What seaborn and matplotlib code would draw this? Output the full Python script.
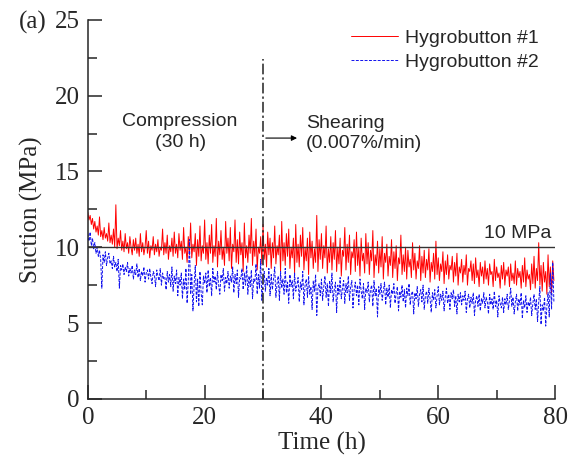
import numpy as np
import pandas as pd
import seaborn as sns
import matplotlib.pyplot as plt

# sampling grid of the hygrobutton records (h)
time_h = np.round(np.arange(0, 80, 0.2), 1)

# Hygrobutton #1 suction (MPa) (4 h per row)
suction_hb1 = [
    12.3, 11.8, 12.1, 11.5, 11.9, 11.2, 11.7, 11.0, 11.4, 10.8, 12.0, 10.7, 11.1, 10.5, 11.3, 10.6, 10.9, 10.4, 11.6, 10.3,
    10.8, 10.2, 11.2, 10.0, 12.8, 9.9, 10.6, 10.1, 11.1, 9.8, 10.4, 9.7, 10.9, 9.9, 10.3, 9.6, 10.7, 10.0, 9.5, 10.5,
    9.8, 10.6, 9.6, 10.2, 9.4, 10.9, 9.7, 10.3, 9.5, 10.0, 11.1, 9.6, 10.4, 9.3, 10.1, 9.8, 10.7, 9.5, 10.2, 9.7,
    10.5, 9.4, 10.0, 9.8, 11.2, 9.5, 10.3, 9.6, 10.8, 9.2, 10.1, 9.7, 10.6, 9.4, 11.0, 9.6, 10.2, 9.3, 10.9, 9.8,
    10.4, 9.2, 11.3, 9.6, 10.0, 9.0, 10.7, 9.5, 11.6, 9.3, 10.2, 9.7, 10.9, 8.8, 10.5, 9.4, 11.4, 9.1, 10.1, 9.6,
    11.8, 9.2, 10.3, 8.9, 10.8, 9.6, 11.5, 9.0, 10.1, 9.4, 11.9, 8.7, 10.4, 9.5, 11.1, 9.2, 10.0, 8.8, 11.7, 9.6,
    10.6, 9.1, 11.3, 8.6, 10.2, 9.7, 11.8, 9.0, 10.5, 8.9, 11.0, 9.5, 10.3, 8.4, 11.6, 9.3, 10.1, 9.0, 10.8, 9.6,
    11.9, 8.8, 10.4, 9.4, 11.2, 8.5, 10.0, 9.6, 10.7, 8.9, 11.5, 9.2, 10.2, 8.7, 11.0, 9.5, 10.6, 8.6, 10.3, 9.3,
    11.4, 8.9, 10.1, 9.5, 10.8, 8.4, 11.7, 9.1, 10.3, 8.8, 10.9, 9.4, 11.2, 8.6, 10.0, 9.3, 10.6, 8.3, 11.5, 9.0,
    10.2, 8.7, 10.8, 9.4, 11.3, 8.5, 10.0, 9.1, 10.6, 8.2, 11.0, 9.3, 10.4, 8.6, 9.9, 9.0, 12.1, 8.4, 10.5, 9.2,
    10.9, 8.6, 10.1, 9.3, 11.4, 8.3, 9.9, 9.0, 10.7, 8.5, 10.3, 9.2, 11.1, 8.4, 10.0, 8.9, 10.6, 8.1, 9.8, 9.4,
    11.3, 8.5, 10.2, 9.0, 10.8, 8.2, 9.7, 9.3, 10.5, 8.4, 11.0, 8.8, 10.0, 8.1, 10.6, 9.1, 9.6, 8.3, 10.9, 8.9,
    10.3, 8.2, 9.8, 9.1, 11.1, 8.0, 9.5, 8.8, 10.4, 8.3, 9.9, 8.7, 10.7, 7.9, 9.6, 9.0, 10.2, 8.1, 9.4, 8.8,
    10.5, 8.0, 9.7, 8.6, 10.1, 7.8, 9.3, 8.9, 10.8, 8.2, 9.5, 8.4, 10.0, 7.9, 9.8, 8.7, 9.2, 8.0, 10.3, 8.5,
    9.6, 7.9, 9.1, 8.6, 10.1, 7.8, 9.4, 8.3, 9.8, 8.0, 9.2, 8.5, 9.9, 7.7, 9.0, 8.4, 9.6, 7.9, 10.4, 8.2,
    9.3, 7.8, 8.9, 8.4, 9.7, 7.6, 9.1, 8.2, 9.5, 7.9, 8.8, 8.5, 9.4, 7.7, 9.0, 8.1, 9.6, 7.5, 8.7, 8.3,
    9.2, 7.7, 8.8, 8.2, 9.5, 7.5, 8.6, 8.4, 9.1, 7.8, 8.9, 7.6, 9.3, 8.0, 8.5, 7.4, 9.0, 8.1, 8.7, 7.6,
    9.1, 7.9, 8.6, 7.5, 8.9, 8.2, 8.4, 7.4, 9.2, 7.8, 8.7, 8.0, 8.3, 7.3, 8.8, 7.9, 9.0, 7.5, 8.5, 8.1,
    8.7, 7.4, 8.9, 7.8, 8.3, 7.6, 9.1, 7.5, 8.6, 8.0, 8.4, 7.3, 8.8, 7.7, 9.3, 7.4, 8.5, 7.9, 8.2, 7.2,
    8.9, 7.6, 9.4, 7.3, 8.6, 7.8, 10.3, 7.5, 8.8, 7.1, 9.0, 7.7, 8.4, 6.9, 9.5, 7.4, 8.7, 7.0, 9.1, 7.8,
]

# Hygrobutton #2 suction (MPa)
suction_hb2 = [
    10.9, 10.4, 11.0, 10.1, 10.6, 9.9, 10.3, 9.6, 10.0, 9.4, 9.8, 9.2, 7.3, 9.5, 9.0, 9.7, 8.8, 9.3, 9.6, 8.9,
    9.1, 8.6, 9.4, 8.7, 9.0, 8.4, 9.2, 7.3, 8.8, 8.5, 8.9, 8.2, 8.7, 8.4, 9.0, 8.1, 8.6, 8.3, 8.8, 7.9,
    8.5, 8.2, 8.9, 8.0, 8.6, 7.8, 8.4, 8.1, 8.7, 7.7, 8.3, 8.5, 7.9, 8.6, 8.0, 7.6, 8.4, 8.2, 7.4, 8.5,
    8.1, 7.8, 8.6, 7.5, 8.3, 7.9, 8.0, 7.2, 8.4, 7.7, 8.2, 7.4, 8.7, 7.1, 8.1, 7.6, 8.5, 6.8, 8.0, 7.5,
    8.3, 6.6, 7.9, 7.2, 8.6, 6.3, 7.7, 10.5, 6.9, 8.2, 5.8, 7.5, 8.8, 6.4, 7.9, 6.1, 8.4, 7.0, 6.2, 8.1,
    7.6, 8.3, 7.0, 8.5, 7.4, 8.0, 6.8, 8.6, 7.7, 8.1, 7.2, 8.4, 7.5, 6.9, 8.2, 7.8, 8.6, 7.1, 8.0, 7.6,
    8.4, 7.3, 8.1, 7.7, 8.7, 7.0, 8.2, 7.6, 8.5, 6.7, 8.0, 7.9, 8.6, 7.2, 8.3, 7.5, 8.8, 6.9, 8.1, 7.4,
    8.5, 6.6, 7.9, 7.7, 8.9, 6.9, 8.2, 7.3, 9.2, 6.5, 7.8, 8.4, 7.1, 8.0, 7.5, 8.6, 6.8, 8.2, 7.2, 7.9,
    8.7, 6.7, 7.6, 8.1, 6.5, 8.4, 7.3, 7.9, 6.9, 8.6, 7.0, 7.7, 6.3, 8.2, 7.4, 7.8, 6.6, 8.3, 7.1, 7.5,
    8.0, 6.4, 7.7, 7.2, 8.4, 6.2, 7.5, 7.9, 6.7, 8.1, 6.9, 7.4, 5.9, 7.8, 7.1, 8.2, 5.5, 7.3, 7.6, 6.8,
    7.9, 6.5, 7.4, 8.1, 6.7, 7.6, 6.1, 7.8, 7.0, 8.3, 6.4, 7.2, 7.7, 5.7, 7.5, 6.9, 8.0, 6.6, 7.3, 7.8,
    6.3, 7.6, 7.0, 8.1, 6.5, 7.4, 7.8, 6.0, 7.2, 7.7, 6.8, 7.5, 6.2, 7.9, 7.1, 6.6, 7.6, 5.9, 7.3, 7.0,
    7.7, 6.4, 7.2, 7.5, 6.1, 7.8, 6.8, 7.3, 5.4, 7.4, 6.9, 7.6, 6.5, 7.1, 7.7, 6.2, 7.3, 6.7, 7.5, 6.0,
    7.2, 6.9, 7.6, 6.3, 7.0, 7.4, 5.8, 7.1, 6.7, 7.5, 6.4, 7.2, 6.0, 7.3, 6.8, 7.6, 6.2, 6.9, 7.1, 5.6,
    7.0, 6.6, 7.4, 6.1, 6.9, 7.2, 6.4, 7.5, 5.9, 6.8, 7.1, 6.3, 7.3, 6.6, 5.7, 7.0, 6.5, 7.2, 6.0, 6.8,
    7.4, 6.2, 6.9, 6.5, 7.1, 5.8, 6.7, 7.3, 6.3, 6.9, 5.9, 7.0, 6.6, 7.2, 6.1, 6.8, 5.6, 6.9, 6.4, 7.0,
    6.2, 6.8, 6.5, 7.1, 5.7, 6.6, 6.9, 6.0, 6.7, 6.3, 7.0, 5.5, 6.5, 6.8, 6.1, 6.9, 5.8, 6.6, 6.3, 7.0,
    6.0, 6.7, 6.4, 5.6, 6.9, 6.2, 6.6, 5.9, 7.1, 6.1, 6.5, 5.4, 6.8, 6.3, 6.0, 6.7, 5.7, 6.6, 6.2, 6.9,
    5.9, 6.5, 7.3, 6.1, 6.7, 5.6, 6.4, 6.9, 5.8, 6.6, 6.2, 7.0, 5.3, 6.5, 6.0, 6.8, 5.7, 6.4, 6.1, 6.7,
    5.5, 6.3, 6.9, 5.9, 6.6, 5.1, 6.4, 7.4, 4.9, 6.2, 5.8, 6.7, 4.8, 6.1, 7.0, 5.4, 8.3, 5.9, 9.0, 6.4,
]

series_labels = ["Hygrobutton #1", "Hygrobutton #2"]
reference_suction = 10      # MPa
shearing_start = 30         # h

sns.set_style("ticks")
plt.rcParams["font.family"] = ["Liberation Serif", "DejaVu Serif"]
plt.rcParams["xtick.direction"] = "in"
plt.rcParams["ytick.direction"] = "in"

df = pd.DataFrame({"time": time_h, series_labels[0]: suction_hb1, series_labels[1]: suction_hb2})

fig = plt.figure(figsize=(5.74, 4.72), dpi=100)
ax = fig.add_axes([0.153, 0.155, 0.814, 0.803])

sns.lineplot(data=df, x="time", y=series_labels[0], ax=ax, color="#ff0000",
             linewidth=0.7, label=series_labels[0])
sns.lineplot(data=df, x="time", y=series_labels[1], ax=ax, color="#1010ee",
             linewidth=0.7, linestyle=(0, (3, 1.5)), label=series_labels[1])

# reference line and phase boundary
ax.plot([0, 80], [reference_suction, reference_suction], color="#333333", linewidth=1.0)
ax.plot([shearing_start, shearing_start], [0, 22.4], color="#222222", linewidth=1.1,
        linestyle=(0, (7, 2, 1.5, 2)))

sans = ["Liberation Sans", "DejaVu Sans"]
ax.text(79.3, 10.35, "10 MPa", family=sans, fontsize=14, ha="right", va="bottom")
ax.text(15.8, 17.6, "Compression\n(30 h)", family=sans, fontsize=14, ha="center", va="center",
        linespacing=1.25)
ax.text(37.3, 17.5, "Shearing\n(0.007%/min)", family=sans, fontsize=14, ha="left", va="center",
        linespacing=1.25)
ax.annotate("", xy=(36.3, 17.2), xytext=(shearing_start, 17.2),
            arrowprops=dict(arrowstyle="-|>", color="black", lw=0.8, mutation_scale=8))

ax.set_xlim(0, 80)
ax.set_ylim(0, 25)
ax.set_xticks([0, 20, 40, 60, 80])
ax.set_xticks([10, 30, 50, 70], minor=True)
ax.set_yticks([0, 5, 10, 15, 20, 25])
ax.set_yticks([2.5, 7.5, 12.5, 17.5, 22.5], minor=True)
ax.tick_params(which="major", length=10, width=1.1, labelsize=18, pad=6)
ax.tick_params(which="minor", length=6.5, width=1.1)
ax.set_xlabel("Time (h)", fontsize=18, labelpad=2)
ax.set_ylabel("Suction (MPa)", fontsize=18, labelpad=8)
for s in ["left", "bottom"]:
    ax.spines[s].set_linewidth(1.1)
sns.despine(ax=ax)

fig.text(47 / 574, 1 - 20 / 472, "(a)", fontsize=18, ha="right", va="center_baseline")

ax.legend(loc="upper right", bbox_to_anchor=(0.99, 1.005), frameon=False,
          prop={"family": sans, "size": 14}, handlelength=2.4, handletextpad=0.35,
          labelspacing=0.3, borderaxespad=0.2)

fig.savefig("out.png", dpi=100)
plt.close(fig)
